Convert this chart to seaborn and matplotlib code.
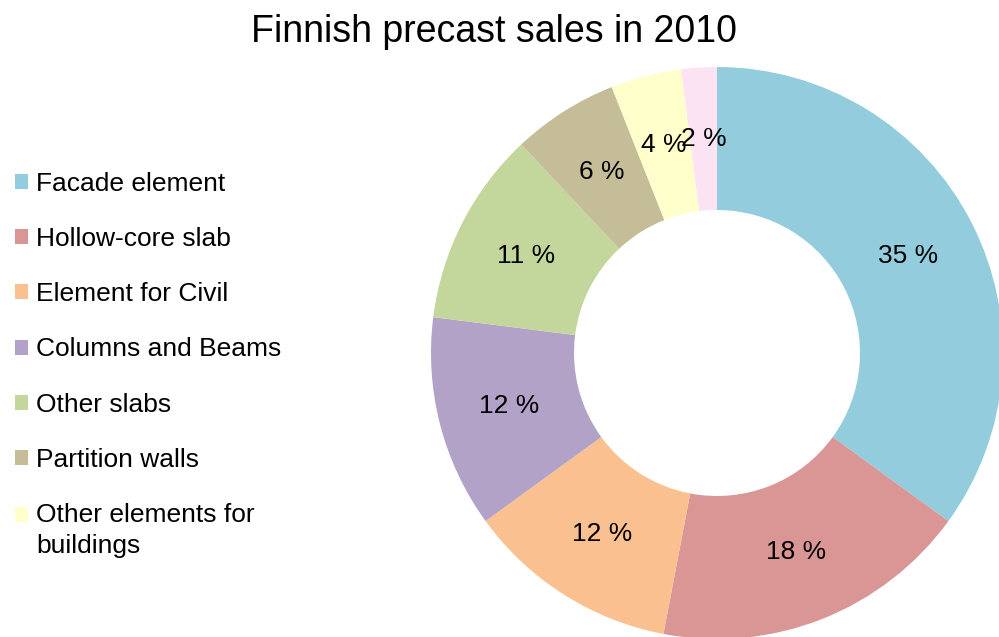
import matplotlib
matplotlib.use("Agg")
import matplotlib.pyplot as plt
import seaborn as sns

sns.set_theme(style="white")
plt.rcParams['font.family'] = ['Liberation Sans', 'DejaVu Sans']
plt.rcParams['text.color'] = 'black'

categories = ["Facade element", "Hollow-core slab", "Element for Civil",
              "Columns and Beams", "Other slabs", "Partition walls",
              "Other elements for\nbuildings", "Other"]
shares = [35, 18, 12, 12, 11, 6, 4, 2]
legend_count = 7
colors = ["#93CDDD", "#D99694", "#FAC090", "#B3A2C7", "#C3D69B",
          "#C4BD97", "#FFFFCC", "#FBE3F3"]

W, H = 999, 637
fig = plt.figure(figsize=(W / 100, H / 100), dpi=100)
cx, cy, R = 717, 353, 286
ax = fig.add_axes([(cx - R) / W, (H - cy - R) / H, 2 * R / W, 2 * R / H])

wedges, texts, autotexts = ax.pie(
    shares, colors=colors, startangle=90, counterclock=False,
    autopct=lambda p: f"{p:.0f} %", pctdistance=0.75,
    wedgeprops=dict(width=0.5, linewidth=0),
    textprops=dict(fontsize=19, color="black"))
ax.set_xlim(-1, 1)
ax.set_ylim(-1, 1)
ax.set_aspect("equal")
ax.axis("off")
for w in wedges:
    w.set_clip_on(False)

fig.text(494 / W, 1 - 32 / H, "Finnish precast sales in 2010",
         ha="center", va="center", fontsize=27, color="black")

leg = fig.legend(wedges[:legend_count], categories[:legend_count],
                 loc="upper left", bbox_to_anchor=(15 / W, 1 - 172 / H),
                 frameon=False, fontsize=19, handlelength=0.5, handleheight=0.5,
                 handletextpad=0.3, labelspacing=1.18, borderpad=0, borderaxespad=0)
for t in leg.get_texts():
    t.set_color("black")
    t.set_linespacing(1.4)
last = leg.legend_handles[legend_count - 1]
last.set_y(last.get_y() + 12)

fig.savefig("out.png", dpi=100)
